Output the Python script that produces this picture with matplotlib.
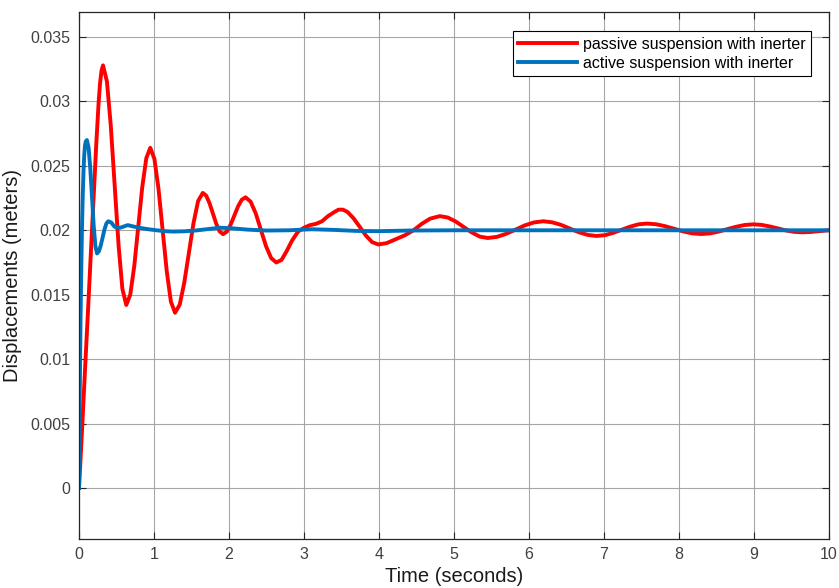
import numpy as np
import matplotlib
matplotlib.use("Agg")
import matplotlib.pyplot as plt

# values
t_passive = [0, 0.04, 0.08, 0.12, 0.16, 0.20, 0.23, 0.26, 0.28, 0.30, 0.32,
             0.372, 0.423, 0.475, 0.527, 0.578, 0.63,
             0.683, 0.737, 0.79, 0.843, 0.897, 0.95,
             1.005, 1.06, 1.115, 1.17, 1.225, 1.28,
             1.342, 1.403, 1.465, 1.527, 1.588, 1.65,
             1.695, 1.74, 1.785, 1.83, 1.875, 1.92,
             1.97, 2.02, 2.07, 2.12, 2.17, 2.22,
             2.288, 2.357, 2.425, 2.493, 2.562, 2.63,
             2.70, 2.77, 2.84, 2.92, 3.00, 3.08, 3.16, 3.24, 3.32, 3.40, 3.46, 3.52,
             3.58, 3.66, 3.745, 3.827, 3.908, 3.99,
             4.10, 4.22, 4.34, 4.46, 4.57, 4.68, 4.81,
             4.917, 5.023, 5.13, 5.237, 5.343, 5.45,
             5.573, 5.697, 5.82, 5.943, 6.067, 6.19,
             6.308, 6.427, 6.545, 6.663, 6.782, 6.90,
             7.012, 7.123, 7.235, 7.347, 7.458, 7.57,
             7.692, 7.813, 7.935, 8.057, 8.178, 8.30,
             8.415, 8.53, 8.645, 8.76, 8.875, 8.99,
             9.098, 9.207, 9.315, 9.423, 9.532, 9.64,
             9.76, 9.88, 10.0]
y_passive = [0, 0.0045, 0.0092, 0.0138, 0.0185, 0.0232, 0.0267, 0.0298, 0.0314, 0.0324, 0.0328,
             0.03155, 0.02815, 0.0235, 0.01885, 0.01545, 0.0142,
             0.0150, 0.01725, 0.0203, 0.02335, 0.0256, 0.0264,
             0.02554, 0.0232, 0.0200, 0.0168, 0.01446, 0.0136,
             0.01422, 0.01593, 0.01825, 0.02058, 0.02228, 0.0229,
             0.02269, 0.0221, 0.0213, 0.0205, 0.01991, 0.0197,
             0.01989, 0.02042, 0.02113, 0.02185, 0.02237, 0.02256,
             0.02222, 0.0213, 0.02003, 0.01877, 0.01784, 0.0175,
             0.0177, 0.0184, 0.0192, 0.0199, 0.0202, 0.0204, 0.0205, 0.0207, 0.0211, 0.0214, 0.0216, 0.0216,
             0.02142, 0.02093, 0.02025, 0.01958, 0.01908, 0.0189,
             0.0190, 0.0193, 0.0196, 0.0200, 0.0205, 0.0209, 0.0211,
             0.02099, 0.02068, 0.02025, 0.01983, 0.01951, 0.0194,
             0.01949, 0.01973, 0.02005, 0.02038, 0.02061, 0.0207,
             0.02062, 0.02042, 0.02013, 0.01985, 0.01964, 0.01956,
             0.01962, 0.0198, 0.02004, 0.02028, 0.02046, 0.02052,
             0.02047, 0.02032, 0.02012, 0.01991, 0.01976, 0.01971,
             0.01976, 0.0199, 0.02009, 0.02027, 0.02041, 0.02046,
             0.02042, 0.0203, 0.02015, 0.01999, 0.01988, 0.01984,
             0.01987, 0.01994, 0.0200]

t_active = [0, 0.01, 0.02, 0.03, 0.04, 0.05, 0.06, 0.07, 0.08, 0.09, 0.105,
            0.1275, 0.15, 0.1725, 0.195, 0.2175, 0.24,
            0.265, 0.29, 0.315, 0.34, 0.365, 0.39,
            0.43, 0.47, 0.50, 0.55, 0.60, 0.65, 0.72, 0.80, 0.90, 1.03, 1.15,
            1.25, 1.40, 1.55, 1.70, 1.88, 2.05, 2.25, 2.50, 2.80, 3.10, 3.40,
            3.70, 4.00, 4.40, 5.00, 6.00, 7.00, 8.00, 9.00, 10.0]
y_active = [0, 0.0075, 0.0130, 0.0170, 0.0203, 0.0228, 0.0246, 0.0259, 0.0266, 0.0269, 0.0270,
            0.02641, 0.0248, 0.0226, 0.0204, 0.01879, 0.0182,
            0.01837, 0.01883, 0.01945, 0.02008, 0.02053, 0.0207,
            0.0206, 0.0203, 0.0202, 0.0202, 0.0203, 0.0204, 0.0203, 0.0202, 0.0201, 0.0200, 0.01993,
            0.0199, 0.01992, 0.01998, 0.02008, 0.0202, 0.02015, 0.02005, 0.01998, 0.0200, 0.02008, 0.02003,
            0.01995, 0.01993, 0.01998, 0.0200, 0.0200, 0.0200, 0.0200, 0.0200, 0.0200]

x_ticks = list(range(0, 11))
y_ticks = [0, 0.005, 0.01, 0.015, 0.02, 0.025, 0.03, 0.035]
y_tick_labels = ["0", "0.005", "0.01", "0.015", "0.02", "0.025", "0.03", "0.035"]

plt.rcParams["font.family"] = ["Liberation Sans", "DejaVu Sans"]
axis_col = "#262626"

fig = plt.figure(figsize=(8.39, 5.88), dpi=100)
ax = fig.add_axes([0.0942, 0.0833, 0.8939, 0.8963])

ax.plot(t_passive, y_passive, color="#FF0000", lw=2.8,
        label="passive suspension with inerter", solid_joinstyle="round")
ax.plot(t_active, y_active, color="#0072BD", lw=2.8,
        label="active suspension with inerter", solid_joinstyle="round")

ax.set_xlim(0, 10)
ax.set_ylim(-0.00396, 0.03694)
ax.set_xticks(x_ticks)
ax.set_yticks(y_ticks)
ax.set_yticklabels(y_tick_labels)
ax.tick_params(direction="in", length=5, width=0.8, colors=axis_col,
               labelsize=11.5, top=True, right=True, pad=6)
ax.tick_params(axis="both", labelcolor="#404040")
for s in ax.spines.values():
    s.set_color(axis_col)
    s.set_linewidth(0.9)
ax.grid(True, color="#a6a6a6", lw=0.8)
ax.set_axisbelow(True)

ax.set_xlabel("Time (seconds)", fontsize=14.5, color="#1a1a1a", labelpad=3)
ax.set_ylabel("Displacements (meters)", fontsize=14.5, color="#1a1a1a", labelpad=6)

leg = ax.legend(loc="upper right", bbox_to_anchor=(0.976, 0.964),
                borderaxespad=0, fontsize=11.5, fancybox=False,
                handlelength=3.7, handletextpad=0.35, borderpad=0.35,
                labelspacing=0.25, framealpha=1)
leg.get_frame().set_edgecolor("black")
leg.get_frame().set_linewidth(0.8)

fig.savefig("out.png", dpi=100)
